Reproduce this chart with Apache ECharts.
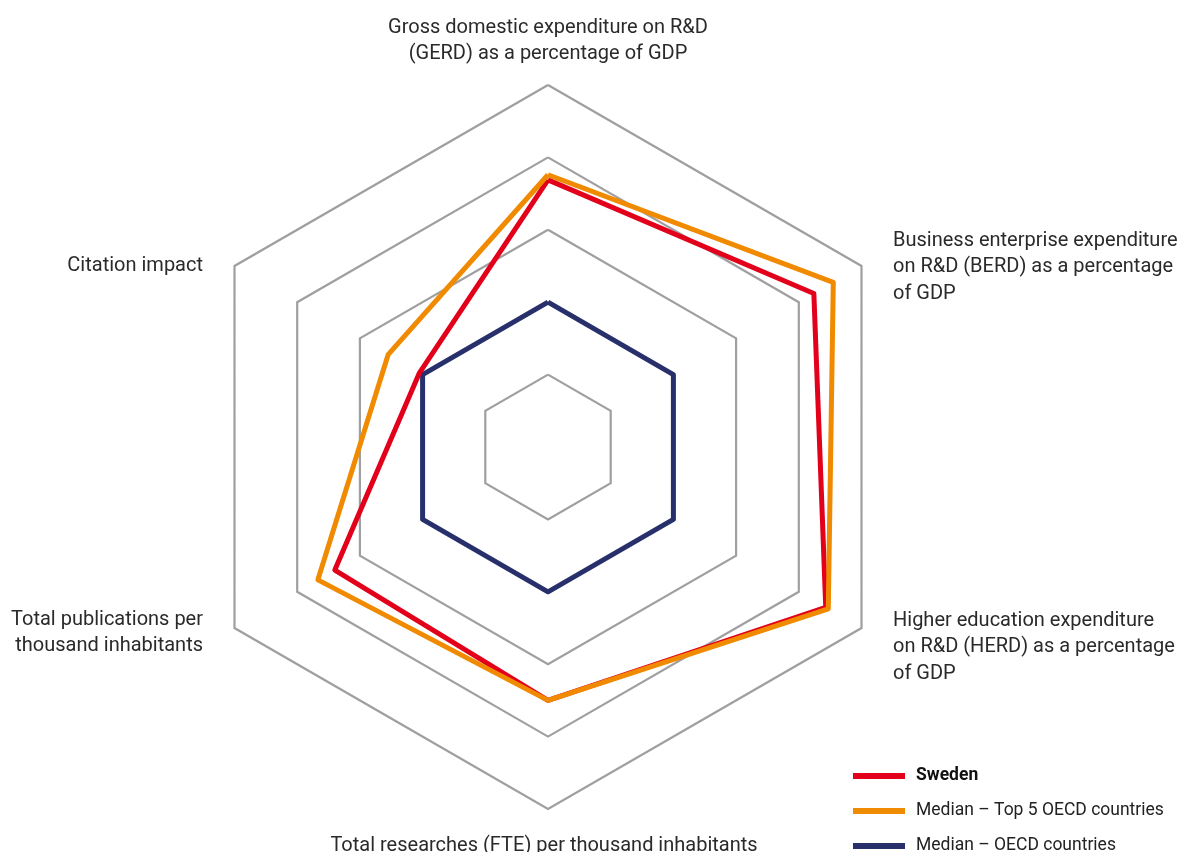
<!DOCTYPE html>
<html>
<head>
<meta charset="utf-8">
<script src="https://cdn.jsdelivr.net/npm/echarts@6/dist/echarts.min.js"></script>
<style>
html,body{margin:0;padding:0;background:#fff;}
#chart{width:1182px;height:852px;}
</style>
</head>
<body>
<div id="chart"></div>
<script>
// Indicators in counter-clockwise order starting from the top
const indicatorNames = [
  'Gross domestic expenditure on R&D\n(GERD) as a percentage of GDP',
  'Citation impact',
  'Total publications per\nthousand inhabitants',
  'Total researches (FTE) per thousand inhabitants',
  'Higher education expenditure\non R&D (HERD) as a percentage\nof GDP',
  'Business enterprise expenditure\non R&D (BERD) as a percentage\nof GDP'
];
const indicatorMax = 5;
const seriesNames = ['Sweden', 'Median – Top 5 OECD countries', 'Median – OECD countries'];
const swedenValues = [3.69, 2.05, 3.4, 3.5, 4.43, 4.24];
const top5Values = [3.76, 2.55, 3.67, 3.5, 4.47, 4.55];
const oecdValues = [2, 2, 2, 2, 2, 2];

const colors = { sweden: '#e2001a', top5: '#f08a00', oecd: '#27306b' };
const FONT = 'Roboto, "Liberation Sans", sans-serif';

const cx = 548, cy = 447, R = 362;
// label placements (anchor + alignment)
const labelLayout = [
  { x: cx, y: 41, align: 'center' },
  { x: 203, y: 266, align: 'right' },
  { x: 203, y: 633, align: 'right' },
  { x: 544, y: 846, align: 'center' },
  { x: 893, y: 647, align: 'left' },
  { x: 893, y: 267, align: 'left' }
];

const chart = echarts.init(document.getElementById('chart'));
const option = {
  backgroundColor: '#ffffff',
  animation: false,
  radar: {
    center: [cx, cy],
    radius: R,
    shape: 'polygon',
    splitNumber: 5,
    startAngle: 90,
    indicator: indicatorNames.map(n => ({ name: n, max: indicatorMax, min: 0 })),
    axisName: { show: false },
    axisLine: { show: false },
    axisTick: { show: false },
    axisLabel: { show: false },
    splitArea: { show: false },
    splitLine: { lineStyle: { color: '#9f9f9f', width: 2.2 } }
  },
  legend: {
    orient: 'vertical',
    left: 853,
    top: 766,
    height: 120,
    padding: 0,
    itemWidth: 52,
    itemHeight: 6,
    itemGap: 15,
    icon: 'rect',
    data: seriesNames,
    formatter: function (name) { return name === 'Sweden' ? '{b|' + name + '}' : name; },
    textStyle: {
      fontFamily: FONT, fontSize: 17.5, color: '#222', lineHeight: 20,
      padding: [0, 0, 0, 6],
      rich: { b: { fontFamily: FONT, fontSize: 17.5, fontWeight: 'bold', color: '#111', lineHeight: 20 } }
    }
  },
  graphic: indicatorNames.map((n, i) => ({
    type: 'text',
    x: labelLayout[i].x,
    y: labelLayout[i].y,
    silent: true,
    style: {
      text: n,
      fill: '#2a2a2a',
      font: '400 20px ' + FONT,
      align: labelLayout[i].align,
      verticalAlign: 'middle',
      lineHeight: 26.5
    }
  })),
  series: [
    {
      name: seriesNames[2], type: 'radar', symbol: 'none', z: 2,
      itemStyle: { color: colors.oecd },
      lineStyle: { color: colors.oecd, width: 5 },
      data: [{ name: seriesNames[2], value: oecdValues }]
    },
    {
      name: seriesNames[0], type: 'radar', symbol: 'none', z: 3,
      itemStyle: { color: colors.sweden },
      lineStyle: { color: colors.sweden, width: 5 },
      data: [{ name: seriesNames[0], value: swedenValues }]
    },
    {
      name: seriesNames[1], type: 'radar', symbol: 'none', z: 4,
      itemStyle: { color: colors.top5 },
      lineStyle: { color: colors.top5, width: 5 },
      data: [{ name: seriesNames[1], value: top5Values }]
    }
  ]
};
chart.setOption(option);
</script>
</body>
</html>
